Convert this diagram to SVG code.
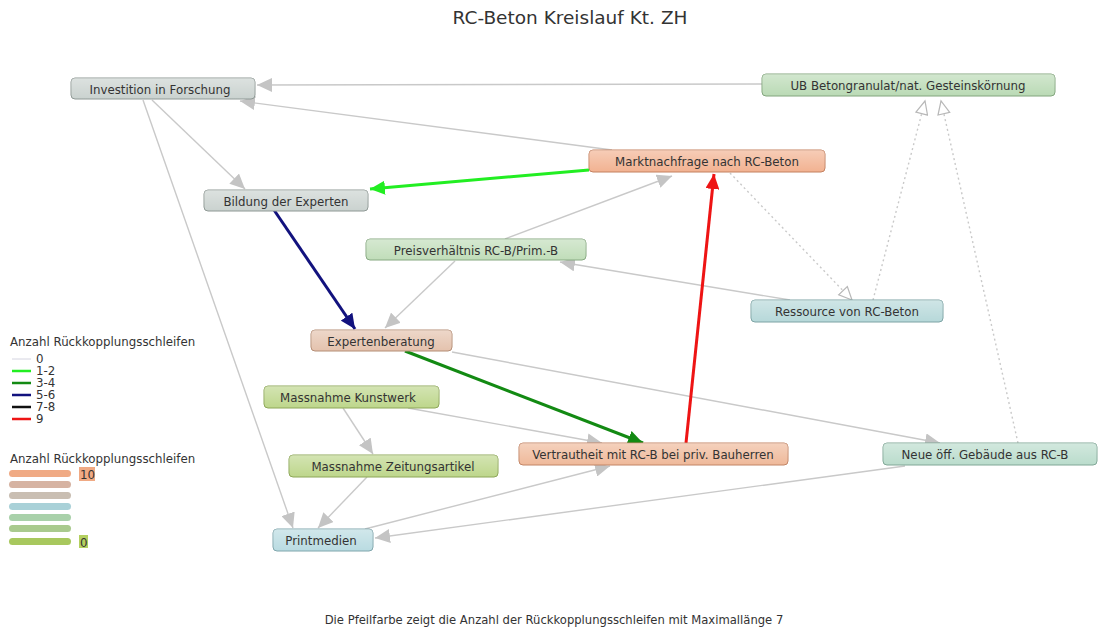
<svg xmlns="http://www.w3.org/2000/svg" width="1099" height="631" viewBox="0 0 1099 631">
  <style>
    text { font-family: "DejaVu Sans", "Liberation Sans", sans-serif; fill: #333; }
    .title { font-size: 18.5px; text-anchor: middle; }
    .foot { font-size: 11.6px; text-anchor: middle; }
    .lbl { font-size: 11.8px; text-anchor: middle; }
    .leg { font-size: 11.8px; }
    .box { stroke-width: 1; }
    .gray { fill: #cad2cf; stroke: #8e9894; }
    .ub { fill: #badab5; stroke: #82a57c; }
    .markt { fill: #f2b291; stroke: #c4805f; }
    .preis { fill: #c0ddb9; stroke: #86a880; }
    .res { fill: #b6d8d9; stroke: #7ca3a4; }
    .exp { fill: #e4c2ad; stroke: #b48d75; }
    .mass { fill: #bdd68b; stroke: #8ca656; }
    .vert { fill: #efb99a; stroke: #c28464; }
    .neue { fill: #badccc; stroke: #80a796; }
    .print { fill: #b9dbe1; stroke: #7fa5ac; }
    .e { fill: none; stroke: #c9c9c9; stroke-width: 1.4; marker-end: url(#ah); }
    .d { fill: none; stroke: #c9c9c9; stroke-width: 1.4; stroke-dasharray: 2 3; marker-end: url(#hollow); }
    .t { fill: none; stroke-width: 3; }
  </style>
  <defs>
    <linearGradient id="shine" x1="0" y1="0" x2="0" y2="1">
      <stop offset="0" stop-color="#ffffff" stop-opacity="0.35"/>
      <stop offset="1" stop-color="#ffffff" stop-opacity="0"/>
    </linearGradient>
    <marker id="ah" markerUnits="userSpaceOnUse" markerWidth="16" markerHeight="14" viewBox="0 0 16 14" refX="15" refY="7" orient="auto">
      <path d="M0,0 L15,7 L0,14 Z" fill="#c4c4c4"/>
    </marker>
    <marker id="hollow" markerUnits="userSpaceOnUse" markerWidth="16" markerHeight="14" viewBox="0 0 16 14" refX="14" refY="7" orient="auto">
      <path d="M1,1 L14,7 L1,13 Z" fill="#ffffff" stroke="#b8b8b8" stroke-width="1.2"/>
    </marker>
    <marker id="ahG" markerUnits="userSpaceOnUse" markerWidth="16" markerHeight="14" viewBox="0 0 16 14" refX="15" refY="7" orient="auto">
      <path d="M0,0 L15,7 L0,14 Z" fill="#22ee22"/>
    </marker>
    <marker id="ahDG" markerUnits="userSpaceOnUse" markerWidth="16" markerHeight="14" viewBox="0 0 16 14" refX="15" refY="7" orient="auto">
      <path d="M0,0 L15,7 L0,14 Z" fill="#138a13"/>
    </marker>
    <marker id="ahN" markerUnits="userSpaceOnUse" markerWidth="16" markerHeight="14" viewBox="0 0 16 14" refX="15" refY="7" orient="auto">
      <path d="M0,0 L15,7 L0,14 Z" fill="#12127e"/>
    </marker>
    <marker id="ahR" markerUnits="userSpaceOnUse" markerWidth="16" markerHeight="14" viewBox="0 0 16 14" refX="15" refY="7" orient="auto">
      <path d="M0,0 L15,7 L0,14 Z" fill="#ee1414"/>
    </marker>
  </defs>

  <rect width="1099" height="631" fill="#ffffff"/>

  <text class="title" x="570" y="24">RC-Beton Kreislauf Kt. ZH</text>

  <!-- connectors -->
  <g id="connectors">
    <path class="e" d="M762,84 L257,85"/>
    <path class="e" d="M612,150 L240,101"/>
    <path class="e" d="M152,100 L245,189"/>
    <path class="e" d="M143,100 L293,528"/>
    <path class="e" d="M505,239 L672,176"/>
    <path class="e" d="M455,261 L385,328"/>
    <path class="e" d="M790,300 L560,262"/>
    <path class="e" d="M452,352 L940,443"/>
    <path class="e" d="M408,408 L602,443"/>
    <path class="e" d="M343,408 L373,454"/>
    <path class="e" d="M367,477 L318,528"/>
    <path class="e" d="M365,529 L610,466"/>
    <path class="e" d="M905,466 L375,538"/>
    <path class="d" d="M730,173 L852,300"/>
    <path class="d" d="M873,300 L925,101"/>
    <path class="d" d="M1018,443 L941,101"/>
    <path class="t" stroke="#22ee22" marker-end="url(#ahG)" d="M589,170 L370,189"/>
    <path class="t" stroke="#12127e" marker-end="url(#ahN)" d="M274,210 L355,329"/>
    <path class="t" stroke="#138a13" marker-end="url(#ahDG)" d="M405,351 L643,443"/>
    <path class="t" stroke="#ee1414" marker-end="url(#ahR)" d="M686,443 L714,174"/>
  </g>

  <!-- nodes -->
  <g id="n-investition">
    <rect class="box gray" x="71" y="78" width="184" height="21" rx="4"/>
    <rect x="71" y="78" width="184" height="21" rx="4" fill="url(#shine)"/>
    <text class="lbl" x="160" y="93.5">Investition in Forschung</text>
  </g>
  <g id="n-ub">
    <rect class="box ub" x="762" y="74" width="293" height="22" rx="4"/>
    <rect x="762" y="74" width="293" height="22" rx="4" fill="url(#shine)"/>
    <text class="lbl" x="908" y="89.5">UB Betongranulat/nat. Gesteinskörnung</text>
  </g>
  <g id="n-markt">
    <rect class="box markt" x="589" y="150" width="236" height="22" rx="4"/>
    <rect x="589" y="150" width="236" height="22" rx="4" fill="url(#shine)"/>
    <text class="lbl" x="707" y="165.5">Marktnachfrage nach RC-Beton</text>
  </g>
  <g id="n-bildung">
    <rect class="box gray" x="204" y="190" width="164" height="21" rx="4"/>
    <rect x="204" y="190" width="164" height="21" rx="4" fill="url(#shine)"/>
    <text class="lbl" x="286" y="205.5">Bildung der Experten</text>
  </g>
  <g id="n-preis">
    <rect class="box preis" x="366" y="239" width="220" height="21" rx="4"/>
    <rect x="366" y="239" width="220" height="21" rx="4" fill="url(#shine)"/>
    <text class="lbl" x="476" y="254.5">Preisverhältnis RC-B/Prim.-B</text>
  </g>
  <g id="n-ressource">
    <rect class="box res" x="751" y="300" width="192" height="22" rx="4"/>
    <rect x="751" y="300" width="192" height="22" rx="4" fill="url(#shine)"/>
    <text class="lbl" x="847" y="315.5">Ressource von RC-Beton</text>
  </g>
  <g id="n-expertenberatung">
    <rect class="box exp" x="311" y="330" width="141" height="21" rx="4"/>
    <rect x="311" y="330" width="141" height="21" rx="4" fill="url(#shine)"/>
    <text class="lbl" x="381" y="345.5">Expertenberatung</text>
  </g>
  <g id="n-kunstwerk">
    <rect class="box mass" x="264" y="386" width="175" height="22" rx="4"/>
    <rect x="264" y="386" width="175" height="22" rx="4" fill="url(#shine)"/>
    <text class="lbl" x="348" y="401.5">Massnahme Kunstwerk</text>
  </g>
  <g id="n-zeitung">
    <rect class="box mass" x="289" y="455" width="209" height="22" rx="4"/>
    <rect x="289" y="455" width="209" height="22" rx="4" fill="url(#shine)"/>
    <text class="lbl" x="393" y="470.5">Massnahme Zeitungsartikel</text>
  </g>
  <g id="n-vertrautheit">
    <rect class="box vert" x="519" y="443" width="269" height="22" rx="4"/>
    <rect x="519" y="443" width="269" height="22" rx="4" fill="url(#shine)"/>
    <text class="lbl" x="653" y="458.5">Vertrautheit mit RC-B bei priv. Bauherren</text>
  </g>
  <g id="n-neue">
    <rect class="box neue" x="883" y="443" width="214" height="22" rx="4"/>
    <rect x="883" y="443" width="214" height="22" rx="4" fill="url(#shine)"/>
    <text class="lbl" x="985" y="458.5">Neue öff. Gebäude aus RC-B</text>
  </g>
  <g id="n-printmedien">
    <rect class="box print" x="273" y="529" width="100" height="22" rx="4"/>
    <rect x="273" y="529" width="100" height="22" rx="4" fill="url(#shine)"/>
    <text class="lbl" x="321" y="544.5">Printmedien</text>
  </g>

  <!-- legend: arrow colours -->
  <g id="legend-arrows">
    <text class="leg" x="10" y="346">Anzahl Rückkopplungsschleifen</text>
    <line x1="12" y1="359" x2="31" y2="359" stroke="#d4d4e0" stroke-width="1"/>
    <line x1="12" y1="371" x2="31" y2="371" stroke="#22ee22" stroke-width="2.5"/>
    <line x1="12" y1="383" x2="31" y2="383" stroke="#138a13" stroke-width="2.5"/>
    <line x1="12" y1="395" x2="31" y2="395" stroke="#12127e" stroke-width="2.5"/>
    <line x1="12" y1="407" x2="31" y2="407" stroke="#111111" stroke-width="2.5"/>
    <line x1="12" y1="419" x2="31" y2="419" stroke="#ee1414" stroke-width="2.5"/>
    <text class="leg" x="36" y="363">0</text>
    <text class="leg" x="36" y="375">1-2</text>
    <text class="leg" x="36" y="387">3-4</text>
    <text class="leg" x="36" y="399">5-6</text>
    <text class="leg" x="36" y="411">7-8</text>
    <text class="leg" x="36" y="423">9</text>
  </g>

  <!-- legend: node colours -->
  <g id="legend-nodes">
    <text class="leg" x="10" y="463">Anzahl Rückkopplungsschleifen</text>
    <rect x="9" y="470" width="62" height="7" rx="3.5" fill="#f0aa84"/>
    <rect x="9" y="481" width="62" height="7" rx="3.5" fill="#d6b3a2"/>
    <rect x="9" y="492" width="62" height="7" rx="3.5" fill="#c9beb2"/>
    <rect x="9" y="503" width="62" height="7" rx="3.5" fill="#a9d1d8"/>
    <rect x="9" y="514" width="62" height="7" rx="3.5" fill="#a9d1aa"/>
    <rect x="9" y="525" width="62" height="7" rx="3.5" fill="#a9ca8e"/>
    <rect x="9" y="538" width="62" height="7" rx="3.5" fill="#a8c85e"/>
    <rect x="79" y="467" width="16" height="14" fill="#f0aa84"/>
    <text class="leg" x="80" y="478.5">10</text>
    <rect x="79" y="535" width="9" height="13" fill="#b4d060"/>
    <text class="leg" x="80" y="546.5">0</text>
  </g>

  <text class="foot" x="554" y="624">Die Pfeilfarbe zeigt die Anzahl der Rückkopplungsschleifen mit Maximallänge 7</text>
</svg>
